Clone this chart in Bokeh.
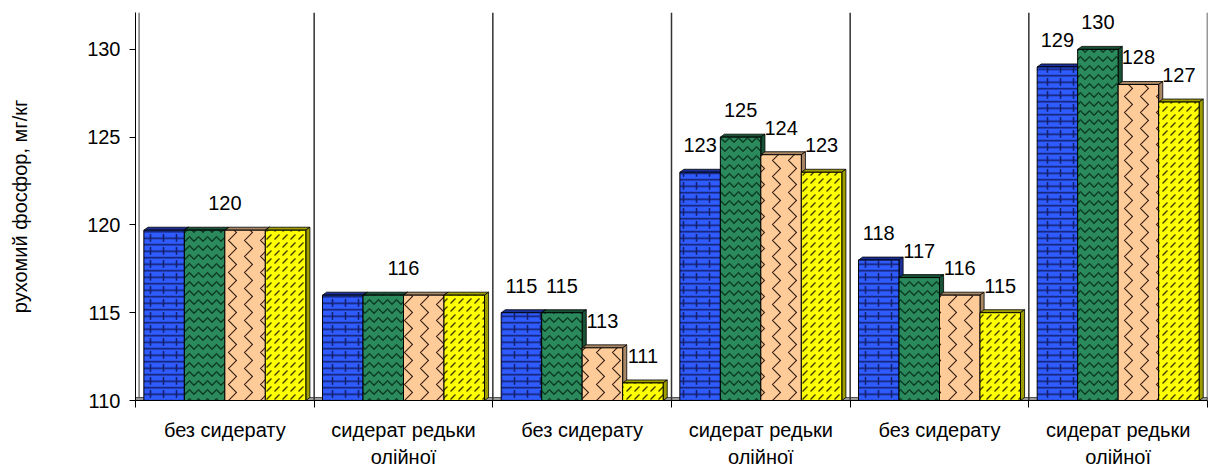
from bokeh.plotting import figure
from bokeh.layouts import column
from bokeh.models import FixedTicker, Range1d, ColumnDataSource, LabelSet, Span
from bokeh.core.properties import value
from bokeh.embed import file_html
from bokeh.resources import INLINE

# categories along the x axis (three pairs of treatments)
categories = ["без сидерату", "сидерат редьки\nолійної",
              "без сидерату", "сидерат редьки\nолійної",
              "без сидерату", "сидерат редьки\nолійної"]

# mobile phosphorus, mg/kg — four series per category
series_1 = [119.7, 116, 115, 123, 118, 129]
series_2 = [119.7, 116, 115, 125, 117, 130]
series_3 = [119.7, 116, 113, 124, 116, 128]
series_4 = [119.7, 116, 111, 123, 115, 127]

# categories whose four bars share one label above the group
shared_label_groups = [0, 1]

y_ticks = [110, 115, 120, 125, 130]
y_axis_title = "рухомий фосфор, мг/кг"

series = [series_1, series_2, series_3, series_4]
styles = [
    dict(fill="#2f5cff", side="#1b2f99", hatch="-", hcolor="#13206e", scale=6.5, weight=1.6),
    dict(fill="#2a8a5c", side="#175236", hatch="v", hcolor="#0c3b23", scale=9, weight=1.4),
    dict(fill="#ffcc99", side="#a98664", hatch=">", hcolor="#3a2414", scale=16, weight=1.1),
    dict(fill="#ffff00", side="#9e9e00", hatch=",", hcolor="#3f3f00", scale=8, weight=1.3),
]

FONT = "Liberation Sans"
BASE = 110.0
W = 0.2266           # bar width in category units
DX = 0.023           # depth offset to the right
DY = 0.17            # depth offset upwards

x_range = Range1d(0, 6)

p = figure(width=1211, height=412, output_backend="svg", toolbar_location=None,
           x_range=x_range, y_range=Range1d(110, 132.1),
           min_border_left=135, min_border_right=4, min_border_top=12,
           min_border_bottom=12)
p.outline_line_color = None
p.grid.visible = False
p.background_fill_color = "white"

# floor of the 3D chart
p.quad(left=[0], right=[6], bottom=[BASE], top=[BASE + DY], fill_color="#9a9a9a",
       line_color="#555555", line_width=1)

# group separators (walls)
for b in range(1, 7):
    p.add_layout(Span(location=b, dimension="height", line_color="#333333", line_width=1.5))
p.segment(x0=[0.02], y0=[BASE + DY], x1=[0.02], y1=[132.1], line_color="#333333", line_width=1)

nser = len(series)
xs_all = []
for j, vals in enumerate(series):
    xs = [g + 0.5 + (j - (nser - 1) / 2) * W for g in range(len(vals))]
    xs_all.append(xs)

# depth faces first
for j, vals in enumerate(series):
    st = styles[j]
    top_x, top_y, side_x, side_y = [], [], [], []
    for x, v in zip(xs_all[j], vals):
        x0, x1 = x - W / 2, x + W / 2
        top_x.append([x0, x0 + DX, x1 + DX, x1])
        top_y.append([v, v + DY, v + DY, v])
        side_x.append([x1, x1, x1 + DX, x1 + DX])
        side_y.append([BASE, v, v + DY, BASE + DY])
    p.patches(xs=top_x, ys=top_y, fill_color=st["side"], line_color="black", line_width=0.8)
    p.patches(xs=side_x, ys=side_y, fill_color=st["side"], line_color="black", line_width=0.8)

# front faces with patterns
for j, vals in enumerate(series):
    st = styles[j]
    p.vbar(x=xs_all[j], bottom=BASE, top=vals, width=W, fill_color=st["fill"],
           line_color="black", line_width=1,
           hatch_pattern=st["hatch"], hatch_color=st["hcolor"],
           hatch_scale=st["scale"], hatch_weight=st["weight"])
    if j == 0:
        # vertical joints of the brick texture
        p.vbar(x=xs_all[j], bottom=BASE, top=vals, width=W, fill_alpha=0,
               line_color=None, hatch_pattern=":", hatch_color=st["hcolor"],
               hatch_scale=13, hatch_weight=1.6)

# value labels
lx, ly, lt = [], [], []
for g in range(len(categories)):
    if g in shared_label_groups:
        v = max(s[g] for s in series)
        lx.append(g + 0.5)
        ly.append(v)
        lt.append(f"{v:.0f}")
    else:
        for j in range(nser):
            v = series[j][g]
            lx.append(xs_all[j][g])
            ly.append(v)
            lt.append(f"{v:.0f}")
src = ColumnDataSource(dict(x=lx, y=ly, t=lt))
p.add_layout(LabelSet(x="x", y="y", text="t", source=src, y_offset=27,
                      text_align="center", text_baseline="middle",
                      text_font=value(FONT), text_font_size=value("20px"),
                      text_color="black"))

# y axis
ya = p.yaxis[0]
ya.ticker = FixedTicker(ticks=y_ticks, minor_ticks=[])
ya.axis_label = y_axis_title
ya.axis_label_text_font = FONT
ya.axis_label_text_font_size = "20px"
ya.axis_label_text_font_style = "normal"
ya.axis_label_text_color = "black"
ya.axis_label_standoff = 53
ya.major_label_text_font = FONT
ya.major_label_text_font_size = "20px"
ya.major_label_text_color = "black"
ya.major_label_standoff = 9
ya.major_tick_out = 6
ya.major_tick_in = 0
ya.axis_line_color = "black"
ya.major_tick_line_color = "black"

# x axis: ticks on group boundaries only
xa = p.xaxis[0]
xa.ticker = FixedTicker(ticks=[], minor_ticks=list(range(len(categories) + 1)))
xa.major_label_standoff = 0
xa.major_tick_out = 0
xa.major_tick_in = 0
xa.minor_tick_out = 7
xa.minor_tick_in = 0
xa.minor_tick_line_color = "black"
xa.axis_line_color = "black"

# strip with the category names, sharing the x scale
names = figure(width=1211, height=58, output_backend="svg", toolbar_location=None,
               x_range=x_range, y_range=Range1d(0, 58),
               min_border_left=135, min_border_right=4, min_border_top=0,
               min_border_bottom=0)
names.axis.visible = False
names.grid.visible = False
names.outline_line_color = None
centers = [g + 0.5 for g in range(len(categories))]
names.text(x=centers, y=[52] * len(centers), text=categories,
           text_align="center", text_baseline="top",
           text_font=value(FONT), text_font_size="20px",
           text_line_height=1.25, text_color="black")

layout = column(p, names, spacing=0)
open("out.html", "w").write(file_html(layout, INLINE))
